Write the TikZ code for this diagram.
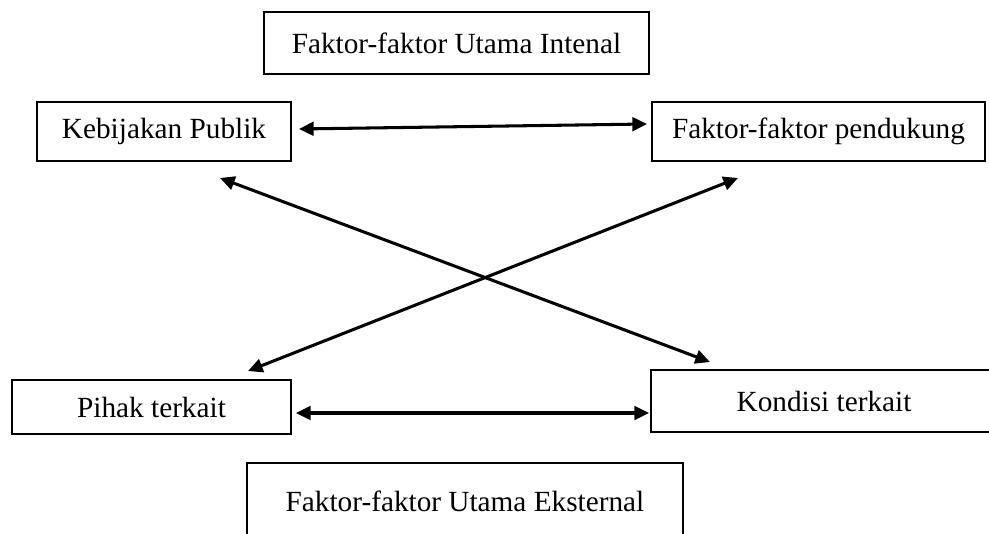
\documentclass[tikz,border=0pt]{standalone}
\usepackage{fontspec}
\setmainfont{Liberation Serif}
\usetikzlibrary{arrows.meta}
\def\px{0.41pt}
\tikzset{
  kotak/.style={draw, line width=0.8pt, inner sep=0pt, font=\fontsize{12}{14}\selectfont},
  panah/.style={{Triangle[length=6pt,width=5.6pt]}-{Triangle[length=6pt,width=5.6pt]}, line width=1.25pt}
}
\begin{document}
\begin{tikzpicture}[x=\px, y=-\px]
            \useasboundingbox (0, 0) rectangle (989, 534);
            \clip (0, 0) rectangle (989, 534);
            % faktor internal
            \node[kotak, minimum width=385*\px, minimum height=62*\px] (internal) at (456.5, 43) {Faktor-faktor Utama Intenal};
            \node[kotak, minimum width=254*\px, minimum height=59*\px] (kebijakan) at (164, 131.5) {Kebijakan Publik};
            \node[kotak, minimum width=333*\px, minimum height=59*\px] (pendukung) at (818.5, 131.5) {Faktor-faktor pendukung};
            % faktor eksternal
            \node[kotak, minimum width=279*\px, minimum height=54*\px] (pihak) at (151.5, 407) {Pihak terkait};
            \node[kotak, minimum width=346*\px, minimum height=62*\px] (kondisi) at (824, 401) {Kondisi terkait};
            \node[kotak, minimum width=436*\px, minimum height=82*\px, text height=49*\px, text depth=33*\px] (eksternal) at (465, 504) {Faktor-faktor Utama Eksternal};
            % hubungan
            \draw[panah] ([shift={(7, -2.5)}]kebijakan.east) -- ([shift={(-4, -7.5)}]pendukung.west);
            \draw[panah] ([shift={(4, 6)}]pihak.east) -- ([shift={(-1, 12)}]kondisi.west);
            \draw[panah] ([shift={(56, 16)}]kebijakan.south) -- ([shift={(-114, -7)}]kondisi.north);
            \draw[panah] ([shift={(-80.5, 16)}]pendukung.south) -- ([shift={(96.5, -8)}]pihak.north);
          \end{tikzpicture}
\end{document}
